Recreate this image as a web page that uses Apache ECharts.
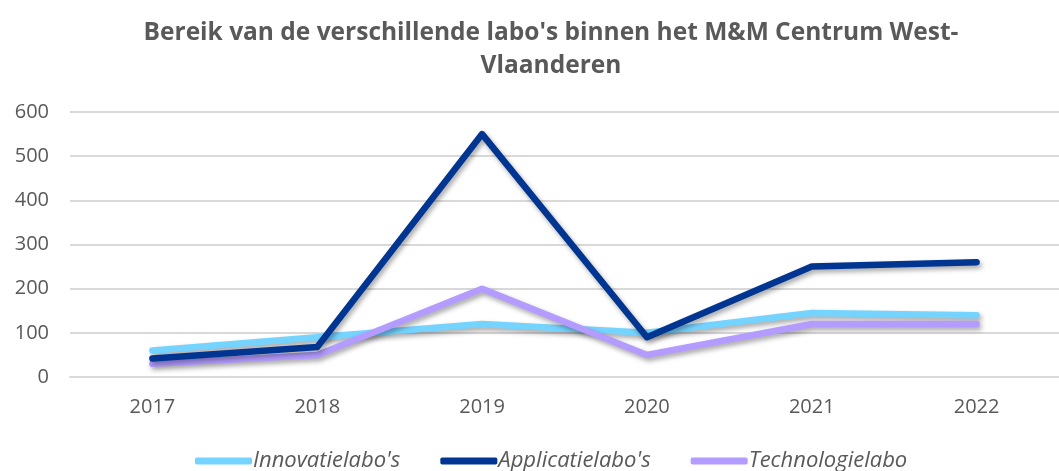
<!DOCTYPE html>
<html>
<head>
<meta charset="utf-8">
<script src="https://cdn.jsdelivr.net/npm/echarts@6/dist/echarts.min.js"></script>
<style>
html,body{margin:0;padding:0;background:#fff;}
#chart{width:1059px;height:471px;}
</style>
</head>
<body>
<div id="chart"></div>
<script>
const categories = ['2017', '2018', '2019', '2020', '2021', '2022'];
const innovatie = [60, 90, 120, 100, 145, 140];
const applicatie = [42, 68, 550, 90, 250, 260];
const technologie = [30, 50, 200, 50, 120, 120];
const seriesNames = ["Innovatielabo's", "Applicatielabo's", "Technologielabo"];
const yTicks = { min: 0, max: 600, interval: 100 };

const colors = ['#75D3FF', '#003591', '#B39BFF'];
const FONT = '"Open Sans", "Liberation Sans", sans-serif';

function mk(name, data, color, z) {
  return {
    name: name,
    type: 'line',
    data: data,
    symbol: 'none',
    z: z,
    lineStyle: {
      width: 6.5,
      color: color,
      cap: 'round',
      join: 'round',
      shadowColor: 'rgba(0,0,0,0.35)',
      shadowBlur: 5,
      shadowOffsetX: 2,
      shadowOffsetY: 3
    },
    itemStyle: { color: color }
  };
}

const chart = echarts.init(document.getElementById('chart'), null, { renderer: 'canvas' });
chart.setOption({
  animation: false,
  backgroundColor: '#ffffff',
  title: {
    text: "Bereik van de verschillende labo's binnen het M&M Centrum West-\nVlaanderen",
    left: 546,
    textAlign: 'center',
    top: 12,
    textStyle: {
      fontFamily: FONT,
      fontWeight: 'bold',
      fontSize: 24.5,
      color: '#595959',
      lineHeight: 33
    }
  },
  legend: {
    data: seriesNames,
    top: 445,
    left: 190,
    itemWidth: 57,
    itemHeight: 7,
    itemGap: 40,
    icon: 'roundRect',
    textStyle: {
      fontFamily: FONT,
      fontStyle: 'italic',
      fontSize: 22,
      color: '#595959',
      padding: [0, 0, 0, -4]
    }
  },
  grid: {
    left: 70,
    top: 112,
    width: 1004,
    height: 265,
    containLabel: false
  },
  xAxis: {
    type: 'category',
    data: categories,
    boundaryGap: true,
    axisLine: { show: true, lineStyle: { color: '#D9D9D9', width: 2 } },
    axisTick: { show: false },
    axisLabel: {
      margin: 20,
      fontFamily: FONT,
      fontSize: 20,
      color: '#595959'
    }
  },
  yAxis: {
    type: 'value',
    min: yTicks.min,
    max: yTicks.max,
    interval: yTicks.interval,
    axisLine: { show: false },
    axisTick: { show: false },
    splitLine: { lineStyle: { color: '#D9D9D9', width: 2 } },
    axisLabel: {
      margin: 21,
      fontFamily: FONT,
      fontSize: 20,
      color: '#595959'
    }
  },
  series: [
    mk(seriesNames[0], innovatie, colors[0], 2),
    mk(seriesNames[1], applicatie, colors[1], 4),
    mk(seriesNames[2], technologie, colors[2], 3)
  ]
});
</script>
</body>
</html>
